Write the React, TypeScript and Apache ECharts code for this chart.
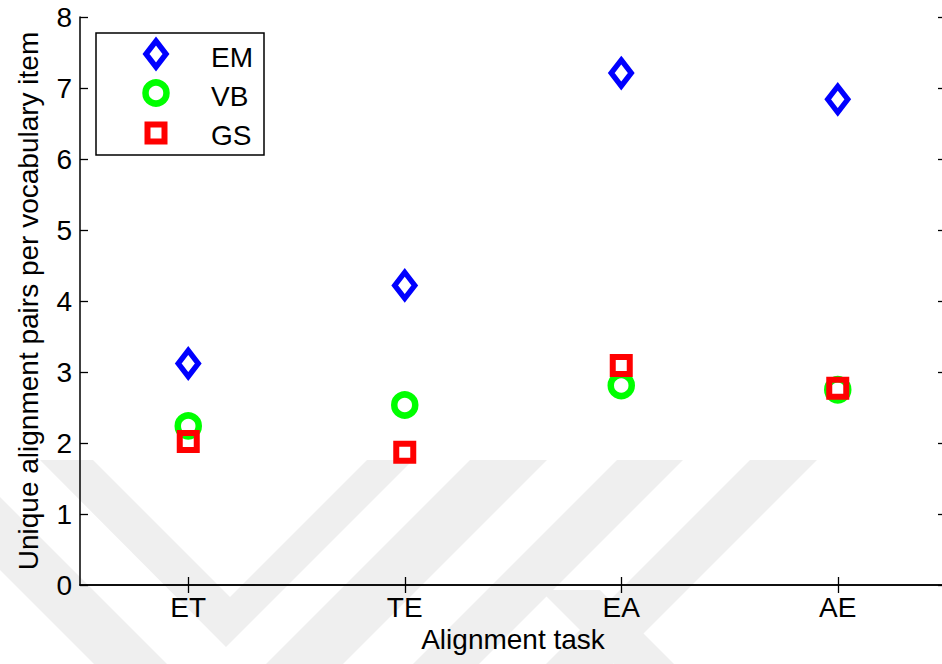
import React, { useEffect, useRef } from "react";
import * as echarts from "echarts";

const categories = ["ET", "TE", "EA", "AE"];
const emValues = [3.12, 4.22, 7.21, 6.84];
const vbValues = [2.24, 2.535, 2.81, 2.75];
const gsValues = [2.02, 1.87, 3.09, 2.77];
const seriesNames = ["EM", "VB", "GS"];
const seriesColors = ["#0000ff", "#00ff00", "#ff0000"];
const xAxisTitle = "Alignment task";
const yAxisTitle = "Unique alignment pairs per vocabulary item";
const yMin = 0;
const yMax = 8;
const yInterval = 1;

const FONT = "'Liberation Sans', Arial, Helvetica, sans-serif";

export default function App() {
  const ref = useRef<HTMLDivElement>(null);
  useEffect(() => {
    if (!ref.current) return;
    const chart = echarts.init(ref.current, undefined, { renderer: "svg" });
    const axisLine = { show: true, lineStyle: { color: "#000", width: 1.5 } };
    const tick = { show: true, inside: true, length: 8, lineStyle: { color: "#000", width: 1.3 } };
    const wm = "#efefef";
    const watermark = [
      [[40, 460], [93, 460], [230, 597], [367, 460], [413, 460], [226, 647]],
      [[-40, 457], [0, 497], [167, 664], [94, 664], [-40, 530]],
      [[470, 460], [547, 460], [343, 664], [266, 664]],
      [[617, 460], [683, 460], [479, 664], [413, 664]],
      [[750, 460], [817, 460], [613, 664], [546, 664]],
      [[540, 590], [600, 590], [674, 664], [614, 664]],
    ].map((pts) => ({
      type: "polygon",
      z: -10,
      silent: true,
      shape: { points: pts },
      style: { fill: wm, stroke: "none" },
    }));
    const legendX = 156;
    const legendRows = [54, 93, 133];
    const legendTextY = [57, 96, 135];
    const legendGraphics: any[] = [
      {
        type: "rect",
        z: 50,
        shape: { x: 96, y: 33, width: 168, height: 122 },
        style: { fill: "#fff", stroke: "#000", lineWidth: 1.5 },
      },
      {
        type: "polygon",
        z: 51,
        shape: {
          points: [
            [legendX, legendRows[0] - 13],
            [legendX + 10, legendRows[0]],
            [legendX, legendRows[0] + 13],
            [legendX - 10, legendRows[0]],
          ],
        },
        style: { fill: "none", stroke: seriesColors[0], lineWidth: 5.5 },
      },
      {
        type: "circle",
        z: 51,
        shape: { cx: legendX, cy: legendRows[1], r: 10.5 },
        style: { fill: "none", stroke: seriesColors[1], lineWidth: 6.5 },
      },
      {
        type: "rect",
        z: 51,
        shape: { x: legendX - 8.5, y: legendRows[2] - 8.5, width: 17, height: 17 },
        style: { fill: "none", stroke: seriesColors[2], lineWidth: 6 },
      },
      ...seriesNames.map((n, i) => ({
        type: "text",
        z: 51,
        x: 211,
        y: legendTextY[i],
        style: {
          text: n,
          fill: "#000",
          font: `28px ${FONT}`,
          textVerticalAlign: "middle",
          verticalAlign: "middle",
        },
      })),
    ];

    const symbolDefs = [
      { symbol: "diamond", symbolSize: [20, 26], borderWidth: 5.5 },
      { symbol: "circle", symbolSize: 21, borderWidth: 6.5 },
      { symbol: "rect", symbolSize: 17, borderWidth: 6 },
    ];
    const dataSets = [emValues, vbValues, gsValues];

    chart.setOption({
      animation: false,
      backgroundColor: "#ffffff",
      textStyle: { fontFamily: FONT },
      grid: { left: 80, right: 0, top: 17, bottom: 79, containLabel: false },
      xAxis: [
        {
          type: "category",
          data: categories,
          position: "bottom",
          boundaryGap: true,
          axisLine,
          axisTick: { ...tick, alignWithLabel: true },
          axisLabel: { color: "#000", fontSize: 28, fontFamily: FONT, margin: 8 },
          splitLine: { show: false },
          name: xAxisTitle,
          nameLocation: "middle",
          nameGap: 40,
          nameTextStyle: { color: "#000", fontSize: 28, fontFamily: FONT },
        },
        {
          type: "category",
          data: categories,
          position: "top",
          boundaryGap: true,
          axisLine,
          axisTick: { ...tick, alignWithLabel: true },
          axisLabel: { show: false },
          splitLine: { show: false },
        },
      ],
      yAxis: [
        {
          type: "value",
          min: yMin,
          max: yMax,
          interval: yInterval,
          position: "left",
          axisLine,
          axisTick: tick,
          axisLabel: { color: "#000", fontSize: 28, fontFamily: FONT, margin: 8 },
          splitLine: { show: false },
          name: yAxisTitle,
          nameLocation: "middle",
          nameGap: 38,
          nameTextStyle: { color: "#000", fontSize: 28, fontFamily: FONT },
        },
        {
          type: "value",
          min: yMin,
          max: yMax,
          interval: yInterval,
          position: "right",
          axisLine,
          axisTick: tick,
          axisLabel: { show: false },
          splitLine: { show: false },
        },
      ],
      series: seriesNames.map((name, i) => ({
        name,
        type: "scatter",
        xAxisIndex: 0,
        yAxisIndex: 0,
        data: dataSets[i],
        symbol: symbolDefs[i].symbol,
        symbolSize: symbolDefs[i].symbolSize,
        itemStyle: {
          color: "rgba(0,0,0,0)",
          borderColor: seriesColors[i],
          borderWidth: symbolDefs[i].borderWidth,
          opacity: 1,
        },
        emphasis: { disabled: true },
        z: 3 + i,
      })),
      graphic: [...watermark, ...legendGraphics],
    });
    return () => chart.dispose();
  }, []);
  return (
    <div
      ref={ref}
      style={{ position: "fixed", left: 0, top: 0, width: 946, height: 664, background: "#fff" }}
    />
  );
}
